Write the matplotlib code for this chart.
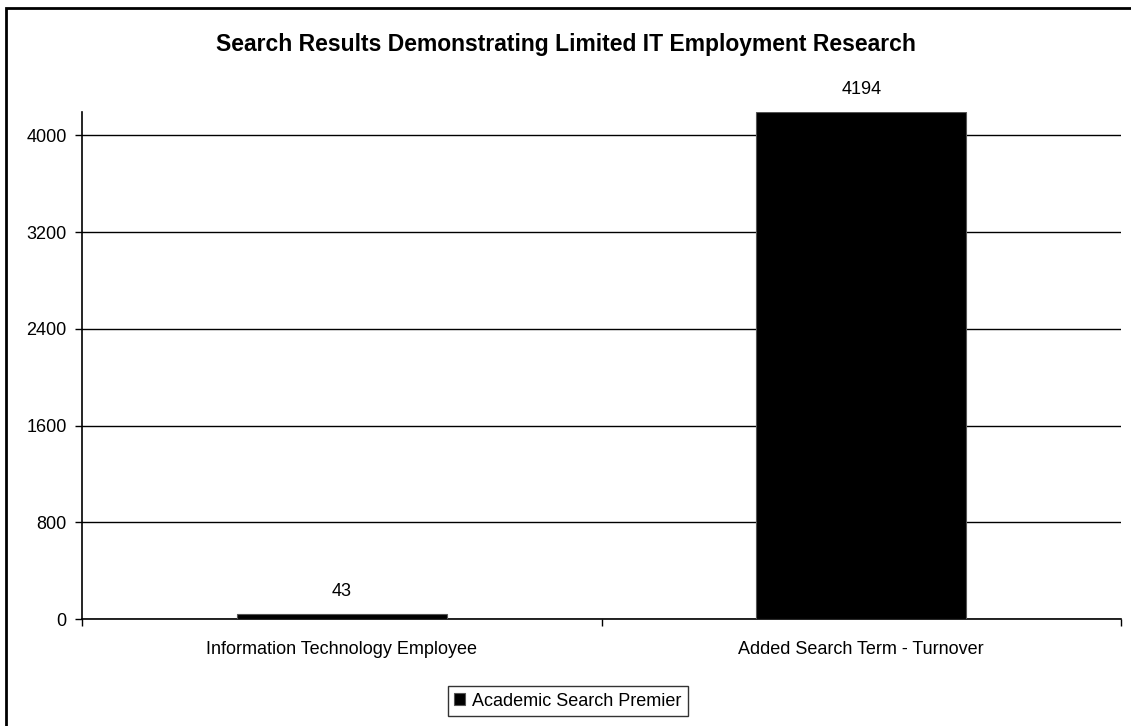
import matplotlib
matplotlib.use("Agg")
import matplotlib.pyplot as plt
from matplotlib.patches import Rectangle

categories = ["Information Technology Employee", "Added Search Term - Turnover"]
values = [43, 4194]
series_name = "Academic Search Premier"
y_ticks = [0, 800, 1600, 2400, 3200, 4000]
title = "Search Results Demonstrating Limited IT Employment Research"

plt.rcParams["font.family"] = ["Liberation Sans", "DejaVu Sans"]

fig = plt.figure(figsize=(11.31, 7.26), dpi=100)
ax = fig.add_axes([82 / 1131, 1 - 619 / 726, (1121 - 82) / 1131, (619 - 112) / 726])

# outer chart border (only left and top visible in the reference)
fig.patches.append(Rectangle((6 / 1131, -0.1), 1.2, 1 - 8 / 726 + 0.1,
                             transform=fig.transFigure, fill=False,
                             edgecolor="black", linewidth=2))

x = list(range(len(categories)))
bars = ax.bar(x, values, width=0.405, color="black", edgecolor="#555555",
              linewidth=0.8, label=series_name, zorder=3)
for xi, v in zip(x, values):
    ax.annotate(str(v), (xi, v), xytext=(0, 10), textcoords="offset points",
                ha="center", va="bottom", fontsize=13)

ax.set_xlim(-0.5, len(categories) - 0.5)
ax.set_ylim(0, max(values))
ax.set_yticks(y_ticks)
ax.set_yticklabels([str(t) for t in y_ticks], fontsize=13)
ax.set_xticks(x)
ax.set_xticklabels(categories, fontsize=13)
ax.tick_params(axis="x", which="major", length=0, pad=16)
ax.set_xticks([i - 0.5 for i in range(len(categories) + 1)], minor=True)
ax.tick_params(axis="x", which="minor", length=5, width=1)
ax.tick_params(axis="y", length=5, width=1, pad=6)
ax.grid(axis="y", color="black", linewidth=1, zorder=0)
ax.set_axisbelow(True)
for s in ["top", "right"]:
    ax.spines[s].set_visible(False)
for s in ["left", "bottom"]:
    ax.spines[s].set_linewidth(1.2)

fig.text(0.5, 1 - 45 / 726, title, ha="center", va="center",
         fontsize=16.5, fontweight="bold")

leg = fig.legend(handles=[bars], labels=[series_name], loc="center",
                 bbox_to_anchor=(568 / 1131, 1 - 701 / 726), fontsize=13,
                 frameon=True, fancybox=False, edgecolor="black",
                 handlelength=0.6, handleheight=0.6, handletextpad=0.4,
                 borderpad=0.35, borderaxespad=0)
leg.get_frame().set_linewidth(1)

fig.savefig("out.png", dpi=100)
